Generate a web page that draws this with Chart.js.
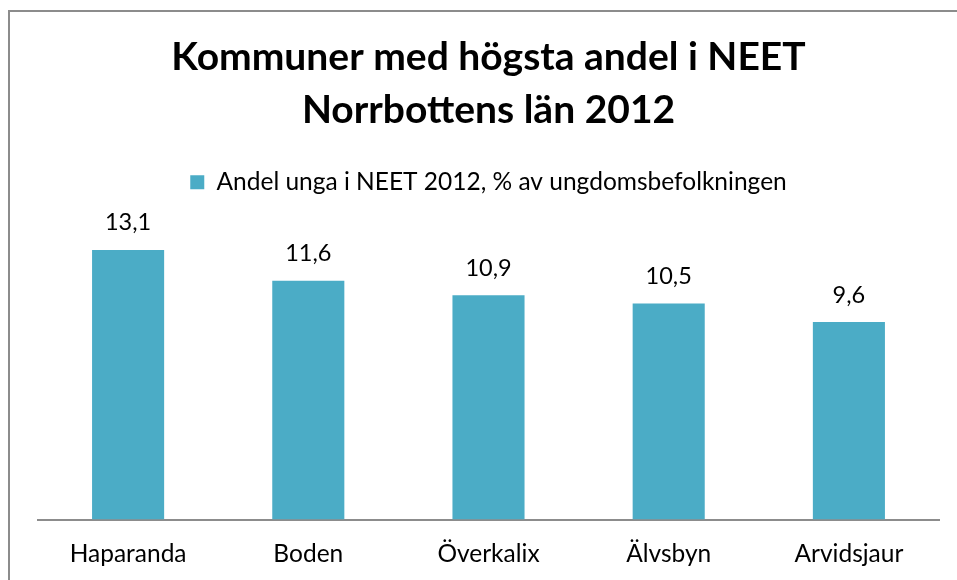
<!DOCTYPE html>
<html><head><meta charset="utf-8">
<script src="https://cdn.jsdelivr.net/npm/chart.js@4"></script>
<style>html,body{margin:0;padding:0;background:#fff}#wrap{width:957px;height:580px}</style>
</head><body><div id="wrap"><canvas id="c" width="957" height="580"></canvas></div>
<script>
const categories = ["Haparanda", "Boden", "Överkalix", "Älvsbyn", "Arvidsjaur"];
const values = [13.1, 11.6, 10.9, 10.5, 9.6];
const seriesName = "Andel unga i NEET 2012, % av ungdomsbefolkningen";
const titleLines = ["Kommuner med högsta andel i NEET", "Norrbottens län 2012"];
const FONT = "Lato, 'Open Sans', 'DejaVu Sans', sans-serif";

const frame = {
  id: 'frame',
  beforeDraw(chart) {
    const ctx = chart.ctx;
    ctx.save();
    ctx.fillStyle = '#fff';
    ctx.fillRect(0, 0, chart.width, chart.height);
    ctx.strokeStyle = '#8c8c8c';
    ctx.lineWidth = 2;
    ctx.strokeRect(9, 11, chart.width + 10, chart.height + 10);
    ctx.restore();
  },
  afterDatasetsDraw(chart) {
    const ctx = chart.ctx;
    const meta = chart.getDatasetMeta(0);
    ctx.save();
    ctx.font = "23.5px " + FONT;
    ctx.fillStyle = '#000';
    ctx.textAlign = 'center';
    ctx.textBaseline = 'middle';
    meta.data.forEach((bar, i) => {
      ctx.fillText(values[i].toFixed(1).replace('.', ','), bar.x, bar.y - 27);
    });
    ctx.restore();
  }
};

new Chart(document.getElementById('c'), {
  type: 'bar',
  data: {
    labels: categories,
    datasets: [{
      label: seriesName,
      data: values,
      backgroundColor: '#4BACC6',
      borderWidth: 0,
      barPercentage: 0.4,
      categoryPercentage: 1.0
    }]
  },
  options: {
    responsive: false,
    animation: false,
    layout: { padding: { left: 38, right: 18, top: 31, bottom: -9 } },
    plugins: {
      title: {
        display: true,
        text: titleLines,
        color: '#000',
        font: { family: FONT, size: 39, weight: 'bold', lineHeight: 1.36 },
        padding: { top: 0, bottom: 23 }
      },
      legend: {
        display: true,
        labels: {
          color: '#000',
          font: { family: FONT, size: 24.5 },
          boxWidth: 14, boxHeight: 14,
          padding: 10
        }
      },
      tooltip: { enabled: false }
    },
    scales: {
      x: {
        grid: { display: false, drawTicks: false },
        border: { display: true, color: '#8c8c8c', width: 2 },
        ticks: { color: '#000', font: { family: FONT, size: 24.5 }, padding: 20 }
      },
      y: {
        display: false,
        min: 0, max: 15.3
      }
    }
  },
  plugins: [frame]
});
</script></body></html>
